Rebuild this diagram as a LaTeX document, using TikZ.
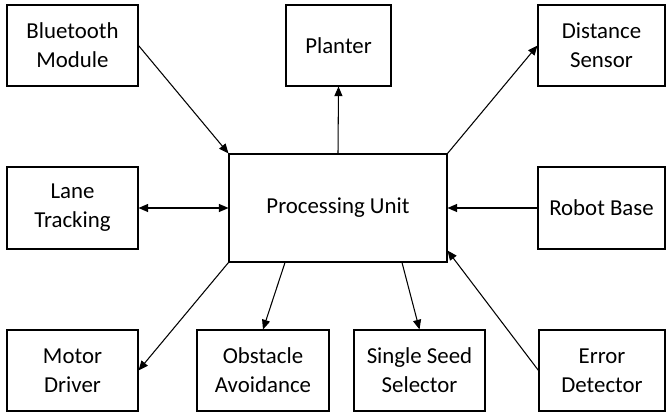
\documentclass[tikz,border=0pt]{standalone}
\usepackage{fontspec}
\setmainfont{Carlito}
\usetikzlibrary{arrows.meta}

\tikzset{
    block/.style={shape=rectangle, draw=black, line width=0.6pt, align=center,
        minimum width=2.62cm, minimum height=1.62cm, inner sep=0pt,
        font=\fontsize{13}{16.4}\selectfont},
    link/.style={line width=0.6pt, -{Triangle[length=5.5pt,width=4.6pt]}},
    duallink/.style={line width=0.6pt, {Triangle[length=5.5pt,width=4.6pt]}-{Triangle[length=5.5pt,width=4.6pt]}}
}

\begin{document}
\begin{tikzpicture}[x=0.02cm,y=-0.02cm]
                \useasboundingbox (0,0) rectangle (666,412);

                \node[block] (bt) at (72.5,45.5) {Bluetooth\\Module};
                \node[block, minimum width=2.1cm] (pl) at (338.5,45.5) {Planter};
                \node[block, minimum width=2.54cm] (ds) at (601.5,45.5) {Distance\\Sensor};
                \node[block, minimum height=1.64cm] (lt) at (72.5,208) {Lane\\Tracking};
                \node[block, minimum width=4.36cm, minimum height=2.16cm] (pu) at (338,208) {Processing Unit};
                \node[block, minimum width=2.54cm, minimum height=1.64cm] (rb) at (601.5,208) {Robot Base};
                \node[block] (md) at (72.5,370.5) {Motor\\Driver};
                \node[block, minimum width=2.64cm] (ob) at (263,370.5) {Obstacle\\Avoidance};
                \node[block] (ss) at (419.5,370.5) {Single Seed\\Selector};
                \node[block, minimum width=2.52cm] (ed) at (602,370.5) {Error\\Detector};

                \draw[link] (bt.east) -- (pu.north west);
                \draw[link] (pu.north) -- (pl.south);
                \draw[link] (pu.north east) -- (ds.west);

                \draw[duallink] (lt.east) -- (pu.west);
                \draw[link] (rb.west) -- (pu.east);

                \draw[link] (ed.west) -- ([yshift=0.24cm]pu.south east);
                \draw[link] (pu.south west) -- (md.east);
                \draw[link] ([xshift=-1.06cm]pu.south) -- (ob.north);
                \draw[link] ([xshift=1.28cm]pu.south) -- (ss.north);

            \end{tikzpicture}
\end{document}
